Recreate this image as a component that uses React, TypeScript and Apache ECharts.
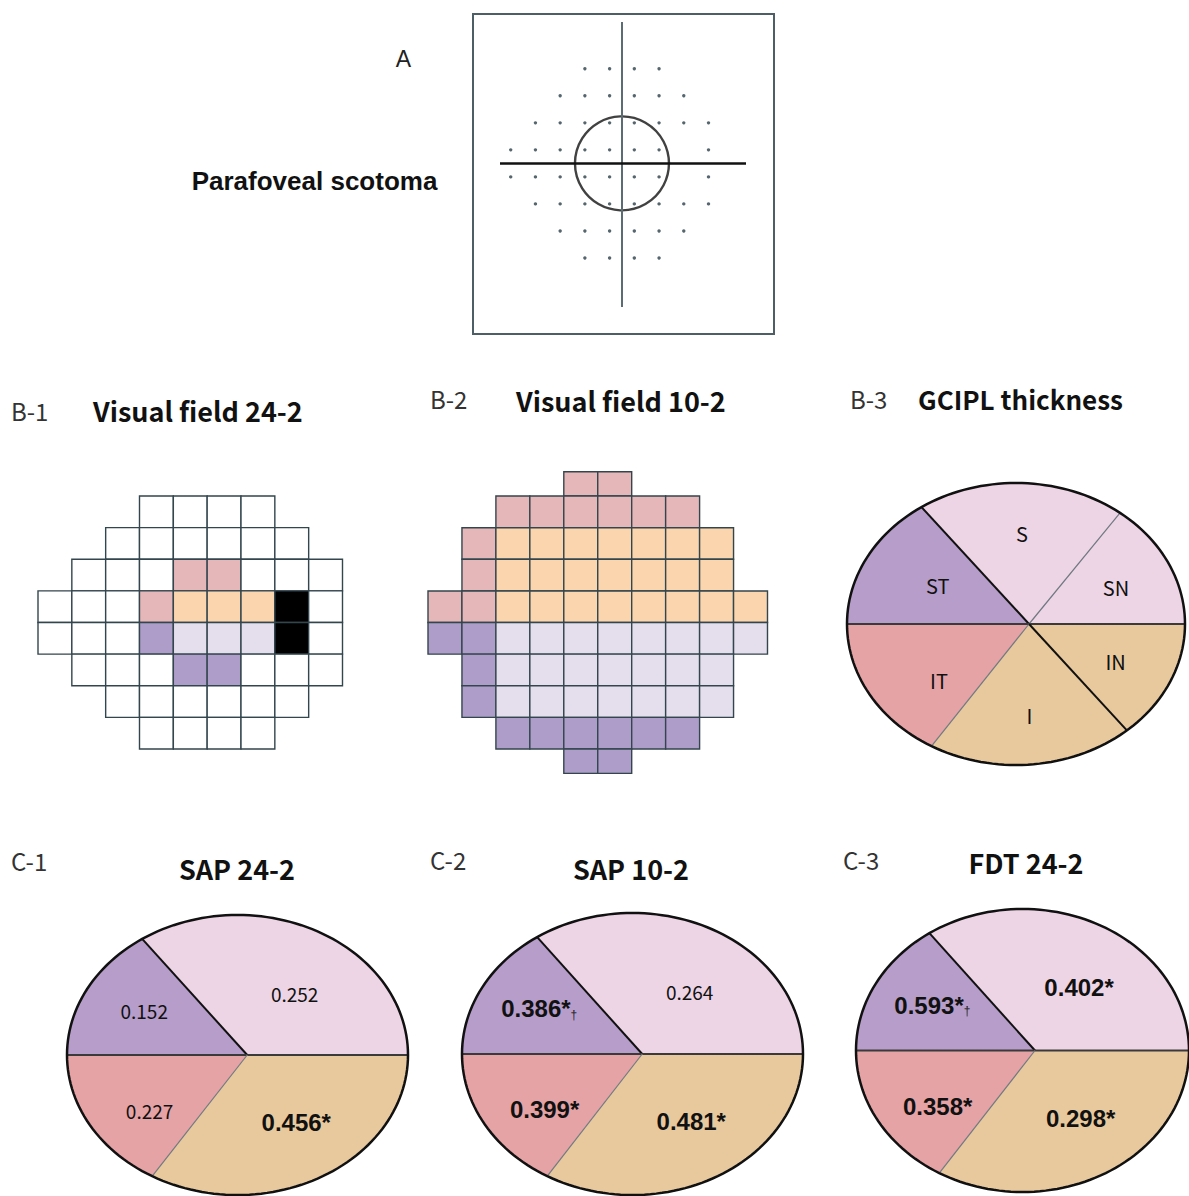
import React, { useEffect, useRef } from "react";
import * as echarts from "echarts";

// ---------- DATA ----------
// Visual field cell maps (rows top -> bottom). "." = no test point,
// W white, P pink, O peach, L lavender, V purple, B blind spot (black)
const vf242Rows = [
  "...WWWW..",
  "..WWWWWW.",
  ".WWWPPWWW",
  "WWWPOOOBW",
  "WWWVLLLBW",
  ".WWWVVWWW",
  "..WWWWWW.",
  "...WWWW..",
];
const vf102Rows = [
  "....PP....",
  "..PPPPPP..",
  ".POOOOOOO.",
  ".POOOOOOO.",
  "PPOOOOOOOO",
  "VVLLLLLLLL",
  ".VLLLLLLL.",
  ".VLLLLLLL.",
  "..VVVVVV..",
  "....VV....",
];
const cellKeys = ["W", "P", "O", "L", "V", "B"];

// 24-2 test-point eccentricities (degrees) for columns and rows
const vf242XDeg = [-27, -21, -15, -9, -3, 3, 9, 15, 21];
const vf242YDeg = [21, 15, 9, 3, -3, -9, -15, -21];

// GCIPL sectors (counter-clockwise from nasal horizontal), boundary angles in degrees
const gciplSectors = ["SN", "S", "ST", "IT", "I", "IN"];
const gciplBounds = [0, 52, 124, 180, 240, 311, 360];
const gciplColorKeys = ["S", "S", "ST", "IT", "I", "I"];
const gciplLineKinds = ["h", "thin", "bold", "h", "thin", "bold"];

// Structure-function correlation sectors (S+SN, ST, IT, I+IN)
const corrSectors = ["S", "ST", "IT", "I"];
const corrBounds = [0, 124, 180, 240, 360];
const corrLineKinds = ["h", "bold", "h", "thin"];
const sap242Values = [0.252, 0.152, 0.227, 0.456];
const sap242Marks = ["", "", "", "*"];
const sap102Values = [0.264, 0.386, 0.399, 0.481];
const sap102Marks = ["", "*†", "*", "*"];
const fdt242Values = [0.402, 0.593, 0.358, 0.298];
const fdt242Marks = ["*", "*†", "*", "*"];

// ---------- STYLE ----------
const cellColors: Record<string, string> = {
  W: "#ffffff",
  P: "#e6b7b9",
  O: "#fbd5ae",
  L: "#e4deed",
  V: "#ae9cc9",
  B: "#000000",
};
const sectorColors: Record<string, string> = {
  S: "#edd5e6",
  ST: "#b69dca",
  IT: "#e5a3a5",
  I: "#e8c99d",
};
// small label nudges (px) relative to the sector centroid
const gciplNudge: number[][] = [[-2, 4], [-1, -3], [13, 4], [12, 12], [0, 4], [-4, 0]];
const corrNudge: number[][] = [[12, 6], [0, -3], [3, 11], [10, 0]];
const KR = "'Noto Sans CJK KR', 'Noto Sans', sans-serif";
const ARIAL = "'Liberation Sans', Arial, sans-serif";

type LabelSpec = { text: string; bold: boolean; dagger: boolean; size: number; font: string };

function buildCells(rows: string[]) {
  const out: number[][] = [];
  rows.forEach((row, r) => {
    for (let c = 0; c < row.length; c++) {
      const k = cellKeys.indexOf(row[c]);
      if (k >= 0) out.push([c, r, k]);
    }
  });
  return out;
}

function buildDots() {
  const out: number[][] = [];
  vf242Rows.forEach((row, r) => {
    for (let c = 0; c < row.length; c++) {
      if (row[c] !== "." && row[c] !== "B") out.push([vf242XDeg[c], vf242YDeg[r]]);
    }
  });
  return out;
}

function cellRenderItem(params: any, api: any) {
  const c = api.value(0);
  const r = api.value(1);
  const k = cellKeys[api.value(2)];
  const p0 = api.coord([c, r]);
  const p1 = api.coord([c + 1, r + 1]);
  const cs = params.coordSys;
  const x0 = Math.min(p0[0], p1[0]);
  const x1 = Math.max(p0[0], p1[0]);
  const y0 = Math.max(Math.min(p0[1], p1[1]), cs.y);
  const y1 = Math.min(Math.max(p0[1], p1[1]), cs.y + cs.height);
  return {
    type: "rect",
    shape: { x: x0, y: y0, width: x1 - x0, height: y1 - y0 },
    style: { fill: cellColors[k], stroke: "#33464e", lineWidth: 1.4 },
  };
}

function ePt(api: any, deg: number) {
  const t = (deg * Math.PI) / 180;
  return api.coord([Math.cos(t), Math.sin(t)]);
}

function regionSeries(
  gi: number,
  bounds: number[],
  colorKeys: string[],
  labels: LabelSpec[],
  center: number,
  nudge: number[][]
) {
  const data = bounds.slice(0, -1).map((b, i) => [b, bounds[i + 1], i]);
  return {
    type: "custom",
    xAxisIndex: gi,
    yAxisIndex: gi,
    silent: true,
    data,
    renderItem: (params: any, api: any) => {
      const a0 = api.value(0);
      const a1 = api.value(1);
      const i = params.dataIndex;
      const pts: number[][] = [api.coord([center, 0])];
      const n = Math.max(10, Math.ceil((a1 - a0) / 2));
      for (let j = 0; j <= n; j++) pts.push(ePt(api, a0 + ((a1 - a0) * j) / n));
      let A = 0, cx = 0, cy = 0;
      for (let j = 0; j < pts.length; j++) {
        const [x0, y0] = pts[j];
        const [x1, y1] = pts[(j + 1) % pts.length];
        const cr = x0 * y1 - x1 * y0;
        A += cr; cx += (x0 + x1) * cr; cy += (y0 + y1) * cr;
      }
      A /= 2; cx /= 6 * A; cy /= 6 * A;
      const lab = labels[i];
      const children: any[] = [
        { type: "polygon", shape: { points: pts }, style: { fill: sectorColors[colorKeys[i]] } },
      ];
      if (lab) {
        const text = lab.dagger ? lab.text + "{d|†}" : lab.text;
        const nd = nudge[i] || [0, 0];
        children.push({
          type: "text",
          x: cx + nd[0],
          y: cy + nd[1],
          style: {
            text,
            fill: "#111",
            fontSize: lab.size,
            fontFamily: lab.font,
            fontWeight: lab.bold ? "bold" : "normal",
            align: "center",
            verticalAlign: "middle",
            rich: { d: { fontSize: 12, fontFamily: ARIAL, fill: "#222", verticalAlign: "bottom" } },
          },
        });
      }
      return { type: "group", children };
    },
  };
}

function boundarySeries(gi: number, bounds: number[], kinds: string[], center: number) {
  const data = bounds.slice(0, -1).map((b, i) => [b, i]);
  return {
    type: "custom",
    xAxisIndex: gi,
    yAxisIndex: gi,
    silent: true,
    data,
    renderItem: (params: any, api: any) => {
      const kind = kinds[params.dataIndex];
      const p0 = api.coord([center, 0]);
      const p1 = ePt(api, api.value(0));
      const style =
        kind === "bold"
          ? { stroke: "#111", lineWidth: 2 }
          : kind === "h"
          ? { stroke: "#3a3a3a", lineWidth: 2 }
          : { stroke: "#6f7880", lineWidth: 1.2 };
      return { type: "line", shape: { x1: p0[0], y1: p0[1], x2: p1[0], y2: p1[1] }, style };
    },
  };
}

function outlineSeries(gi: number) {
  return {
    type: "custom",
    xAxisIndex: gi,
    yAxisIndex: gi,
    silent: true,
    data: [[0]],
    renderItem: (params: any, api: any) => {
      const pts: number[][] = [];
      for (let j = 0; j < 180; j++) pts.push(ePt(api, j * 2));
      return { type: "polygon", shape: { points: pts }, style: { fill: "none", stroke: "#111", lineWidth: 2.5 } };
    },
  };
}

function corrLabels(values: number[], marks: string[]): LabelSpec[] {
  return values.map((v, i) => {
    const m = marks[i];
    const bold = m.includes("*");
    return {
      text: v.toFixed(3) + (bold ? "*" : ""),
      bold,
      dagger: m.includes("†"),
      size: bold ? 24 : 19,
      font: bold ? ARIAL : KR,
    };
  });
}

export default function App() {
  const ref = useRef<HTMLDivElement>(null);
  useEffect(() => {
    if (!ref.current) return;
    const chart = echarts.init(ref.current, undefined, { renderer: "svg" });

    const grids = [
      { left: 500, top: 22, width: 246, height: 285 }, // A
      { left: 38, top: 496, width: 304.5, height: 253 }, // B-1
      { left: 428, top: 471.7, width: 339.5, height: 301.7 }, // B-2
      { left: 847, top: 483, width: 338, height: 282 }, // B-3
      { left: 67, top: 915, width: 341, height: 280 }, // C-1
      { left: 462, top: 913, width: 341, height: 282 }, // C-2
      { left: 856, top: 909, width: 336, height: 283 }, // C-3
    ];
    const ax = (min: number, max: number, gi: number, inverse = false) => ({
      type: "value", gridIndex: gi, min, max, show: false, inverse,
    });
    const xAxis = [
      ax(-29.6, 30.1, 0),
      ax(0, 9, 1),
      ax(0, 10, 2),
      ax(-1, 1, 3), ax(-1, 1, 4), ax(-1, 1, 5), ax(-1, 1, 6),
    ];
    const yAxis = [
      ax(-31.9, 31.4, 0),
      ax(0, 8, 1, true),
      ax(0.23, 9.77, 2, true),
      ax(-1, 1, 3), ax(-1, 1, 4), ax(-1, 1, 5), ax(-1, 1, 6),
    ];

    const gciplLabels: LabelSpec[] = gciplSectors.map((s) => ({
      text: s, bold: false, dagger: false, size: 20, font: KR,
    }));

    const series: any[] = [
      {
        type: "scatter",
        xAxisIndex: 0,
        yAxisIndex: 0,
        silent: true,
        data: buildDots(),
        symbolSize: 3.4,
        itemStyle: { color: "#2a3e48" },
        markLine: {
          silent: true,
          symbol: ["none", "none"],
          label: { show: false },
          data: [
            { xAxis: 0, lineStyle: { color: "#5c6c74", width: 2, type: "solid" } },
            { yAxis: 0, lineStyle: { color: "#111", width: 2.5, type: "solid" } },
          ],
        },
      },
      {
        type: "scatter",
        xAxisIndex: 0,
        yAxisIndex: 0,
        silent: true,
        data: [[0, 0]],
        symbol: "circle",
        symbolSize: 94,
        itemStyle: { color: "rgba(0,0,0,0)", borderColor: "#111", borderWidth: 2.4 },
      },
      {
        type: "custom", xAxisIndex: 1, yAxisIndex: 1, silent: true,
        data: buildCells(vf242Rows), renderItem: cellRenderItem,
      },
      {
        type: "custom", xAxisIndex: 2, yAxisIndex: 2, silent: true,
        data: buildCells(vf102Rows), renderItem: cellRenderItem,
      },
      regionSeries(3, gciplBounds, gciplColorKeys, gciplLabels, 0.077, gciplNudge),
      boundarySeries(3, gciplBounds, gciplLineKinds, 0.077),
      outlineSeries(3),
    ];
    const corrPanels = [
      { gi: 4, values: sap242Values, marks: sap242Marks, center: 0.057 },
      { gi: 5, values: sap102Values, marks: sap102Marks, center: 0.057 },
      { gi: 6, values: fdt242Values, marks: fdt242Marks, center: 0.075 },
    ];
    corrPanels.forEach((p) => {
      series.push(regionSeries(p.gi, corrBounds, corrSectors, corrLabels(p.values, p.marks), p.center, corrNudge));
      series.push(boundarySeries(p.gi, corrBounds, corrLineKinds, p.center));
      series.push(outlineSeries(p.gi));
    });

    const txt = (text: string, x: number, y: number, size: number, bold: boolean, font: string, align = "left", color = "#111") => ({
      type: "text",
      x,
      y,
      silent: true,
      style: {
        text,
        fill: color,
        fontSize: size,
        fontFamily: font,
        fontWeight: bold ? "bold" : "normal",
        align,
        textAlign: align,
        verticalAlign: "middle",
        textVerticalAlign: "middle",
      },
    });

    const graphic = [
      {
        type: "rect",
        silent: true,
        shape: { x: 473, y: 14, width: 301, height: 320 },
        style: { fill: "none", stroke: "#4e5e66", lineWidth: 2 },
      },
      txt("A", 403.5, 58.5, 23, false, ARIAL, "center", "#222"),
      txt("Parafoveal scotoma", 314.5, 181, 26, true, ARIAL, "center"),
      txt("B-1", 11, 410, 24, false, KR, "left", "#333"),
      txt("Visual field 24-2", 93, 410, 27, true, KR),
      txt("B-2", 430, 398, 24, false, KR, "left", "#333"),
      txt("Visual field 10-2", 516, 400, 27, true, KR),
      txt("B-3", 850, 398, 24, false, KR, "left", "#333"),
      txt("GCIPL thickness", 918, 398, 26, true, KR),
      txt("C-1", 11, 860, 24, false, KR, "left", "#333"),
      txt("SAP 24-2", 237, 868, 27, true, KR, "center"),
      txt("C-2", 430, 859, 24, false, KR, "left", "#333"),
      txt("SAP 10-2", 631, 868, 27, true, KR, "center"),
      txt("C-3", 843, 859, 24, false, KR, "left", "#333"),
      txt("FDT 24-2", 1026, 862, 27, true, KR, "center"),
    ];

    chart.setOption({
      animation: false,
      backgroundColor: "#ffffff",
      grid: grids,
      xAxis,
      yAxis,
      series,
      graphic: { elements: graphic },
    });
    return () => chart.dispose();
  }, []);

  return (
    <div
      ref={ref}
      style={{ position: "absolute", left: 0, top: 0, width: 1189, height: 1196, background: "#fff" }}
    />
  );
}
